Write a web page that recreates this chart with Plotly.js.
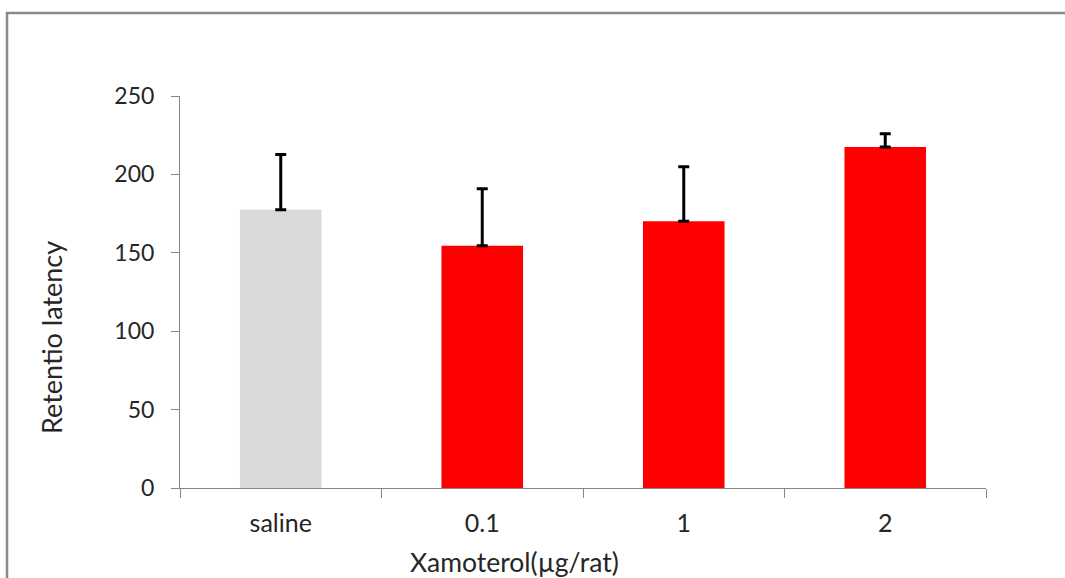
<!DOCTYPE html>
<html>
<head>
<meta charset="utf-8">
<script src="https://cdn.plot.ly/plotly-3.0.1.min.js"></script>
<style>html,body{margin:0;padding:0;background:#fff;}#chart{width:1065px;height:578px;}</style>
</head>
<body>
<div id="chart"></div>
<script>
const categories = ["saline", "0.1", "1", "2"];
const latency = [177.5, 154.5, 170.2, 217.5];
const errorPlus = [35.2, 36.3, 34.6, 8.5];
const barColors = ["#d9d9d9", "#ff0000", "#ff0000", "#ff0000"];
const yTickVals = [0, 50, 100, 150, 200, 250];
const xTitle = "Xamoterol(µg/rat)";
const yTitle = "Retentio latency";

const FONT = "Lato, 'Open Sans', sans-serif";

const trace = {
  type: "bar",
  x: categories,
  y: latency,
  marker: {color: barColors, line: {width: 0}},
  error_y: {
    type: "data",
    symmetric: false,
    array: errorPlus,
    arrayminus: latency.map(() => 0),
    color: "#000000",
    thickness: 3,
    width: 5.5
  },
  hoverinfo: "x+y"
};

const layout = {
  width: 1065,
  height: 578,
  margin: {l: 180, r: 79, t: 96, b: 90},
  paper_bgcolor: "#ffffff",
  plot_bgcolor: "#ffffff",
  showlegend: false,
  bargap: 0.595,
  font: {family: FONT, size: 23, color: "#262626"},
  xaxis: {
    type: "category",
    showline: true,
    linecolor: "#868686",
    linewidth: 1,
    ticks: "outside",
    tickson: "boundaries",
    ticklen: 9,
    tickcolor: "#868686",
    ticklabelstandoff: 13,
    tickfont: {family: FONT, size: 25, color: "#262626"},
    showgrid: false,
    zeroline: false,
    fixedrange: true
  },
  yaxis: {
    range: [0, 250],
    tickvals: yTickVals,
    showline: true,
    linecolor: "#868686",
    linewidth: 1,
    ticks: "outside",
    ticklen: 8,
    tickcolor: "#868686",
    ticklabelstandoff: 12,
    tickfont: {family: FONT, size: 23, color: "#262626"},
    showgrid: false,
    zeroline: false,
    fixedrange: true
  },
  annotations: [
    {
      text: xTitle, xref: "paper", yref: "paper",
      x: 0.4156, y: -0.189, xanchor: "center", yanchor: "middle",
      showarrow: false, font: {family: FONT, size: 26.5, color: "#262626"}
    },
    {
      text: yTitle, xref: "paper", yref: "paper",
      x: -0.1588, y: 0.3827, xanchor: "center", yanchor: "middle",
      textangle: -90,
      showarrow: false, font: {family: FONT, size: 27, color: "#262626"}
    }
  ],
  shapes: [
    {
      type: "rect", xref: "paper", yref: "paper",
      x0: -0.2146, x1: 1.12, y0: -0.35, y1: 1.2117,
      line: {color: "#898989", width: 2.5},
      fillcolor: "rgba(0,0,0,0)", layer: "below"
    }
  ]
};

Plotly.newPlot("chart", [trace], layout, {displayModeBar: false, staticPlot: true});
</script>
</body>
</html>
